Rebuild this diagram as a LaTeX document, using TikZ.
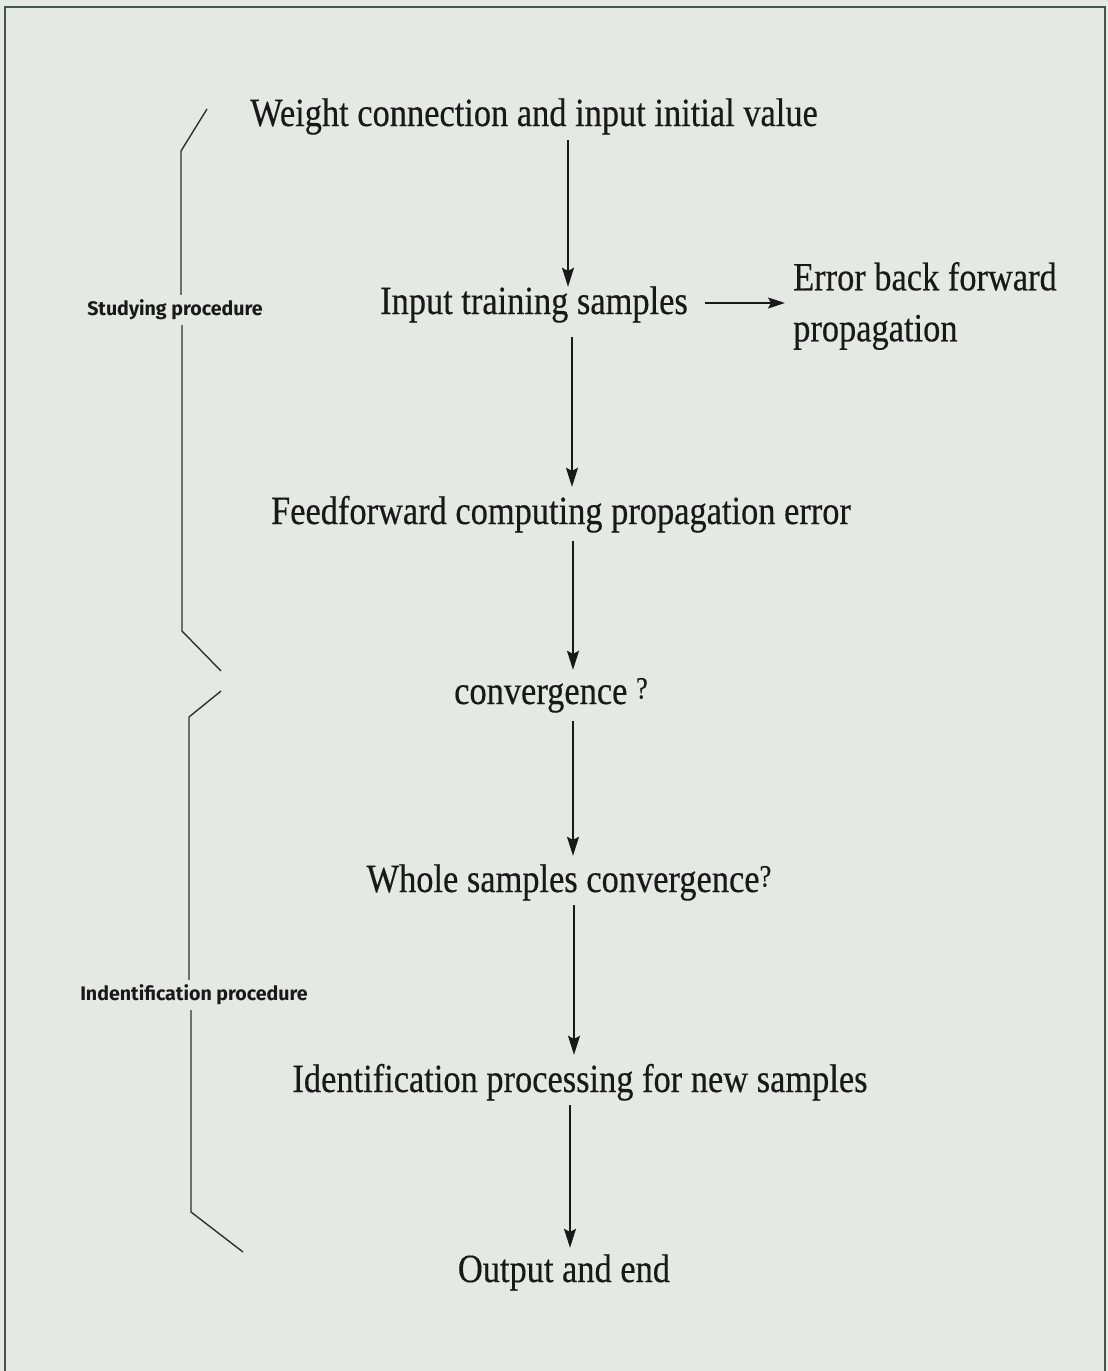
\documentclass[tikz,border=0pt]{standalone}
\usepackage{fontspec}
\setmainfont[FakeStretch=0.86,FakeBold=0.4]{Liberation Serif}
\newfontfamily\lblfont{Fira Sans}
\usetikzlibrary{arrows.meta}

\definecolor{paper}{RGB}{229,233,227}
\definecolor{frame}{RGB}{70,84,76}
\definecolor{ink}{RGB}{25,25,25}

\tikzset{
  step node/.style={font=\fontsize{40}{51}\selectfont, text=ink, inner sep=0pt,
    text height=27pt, text depth=9pt},
  phase label/.style={font=\lblfont\bfseries\fontsize{19.6}{22}\selectfont, text=ink,
    inner sep=6pt, text height=14pt, text depth=4pt},
  flow/.style={draw=ink, line width=1.4pt,
    -{Stealth[width=12pt,length=19pt,inset=3pt]}},
  brace line/.style={draw=ink!90, line width=1.4pt},
}

\newcommand{\qmark}{\raisebox{0.3ex}{\fontsize{31}{31}\selectfont ?}}

\begin{document}
\begin{tikzpicture}[x=1pt,y=-1pt]
  % paper and frame
  \fill[paper] (0,0) rectangle (1108,1371);
  \useasboundingbox (0,0) rectangle (1108,1371);
  \draw[frame, line width=2pt] (5,1371) -- (5,7) -- (1105,7) -- (1105,1371);

  % process steps
  \node[step node, anchor=base] (init) at (534,126) {Weight connection and input initial value};
  \node[step node, anchor=base] (train) at (534,314) {Input training samples};
  \node[font=\fontsize{40}{51}\selectfont, text=ink, inner sep=0pt, align=left, anchor=west]
    (back) at (793,306) {Error back forward\\propagation};
  \node[step node, anchor=base] (feed) at (561,524) {Feedforward computing propagation error};
  \node[step node, anchor=base] (conv) at (551,704) {convergence \qmark};
  \node[step node, anchor=base] (whole) at (569,892) {Whole samples convergence\qmark};
  \node[step node, anchor=base] (ident) at (580,1092) {Identification processing for new samples};
  \node[step node, anchor=base] (out) at (564,1282) {Output and end};

  % arrow columns
  \coordinate (x1) at (568,0);
  \coordinate (x2) at (572,0);
  \coordinate (x3) at (573,0);
  \coordinate (x4) at (573,0);
  \coordinate (x5) at (574,0);
  \coordinate (x6) at (570,0);
  \coordinate (h1) at (0,303);

  \draw[flow, shorten <=5pt] (init.south -| x1) -- (train.north -| x1);
  \draw[flow, shorten <=14pt, shorten >=10pt] (train.south -| x2) -- (feed.north -| x2);
  \draw[flow, shorten <=8pt, shorten >=7pt] (feed.south -| x3) -- (conv.north -| x3);
  \draw[flow, shorten <=8pt, shorten >=9pt] (conv.south -| x4) -- (whole.north -| x4);
  \draw[flow, shorten <=4pt, shorten >=10pt] (whole.south -| x5) -- (ident.north -| x5);
  \draw[flow, shorten <=4pt, shorten >=7pt] (ident.south -| x6) -- (out.north -| x6);
  \draw[draw=ink, line width=1.4pt, -{Stealth[width=11pt,length=17pt,inset=3pt]},
    shorten <=17pt, shorten >=8pt] (train.east |- h1) -- (back.west |- h1);

  % phase brackets
  \node[phase label, anchor=base] (study) at (175,315) {Studying procedure};
  \node[phase label, anchor=base] (recog) at (194,1000) {Indentification procedure};

  \coordinate (s1) at (207,109);
  \coordinate (s2) at (181,151);
  \coordinate (s3) at (182,631);
  \coordinate (s4) at (221,671);
  \draw[brace line] (s1) -- (s2) -- (s2 |- study.north);
  \draw[brace line] (s3 |- study.south) -- (s3) -- (s4);

  \coordinate (r1) at (221,691);
  \coordinate (r2) at (189,717);
  \coordinate (r3) at (191,1212);
  \coordinate (r4) at (243,1252);
  \draw[brace line] (r1) -- (r2) -- (r2 |- recog.north);
  \draw[brace line] (r3 |- recog.south) -- (r3) -- (r4);
\end{tikzpicture}
\end{document}
